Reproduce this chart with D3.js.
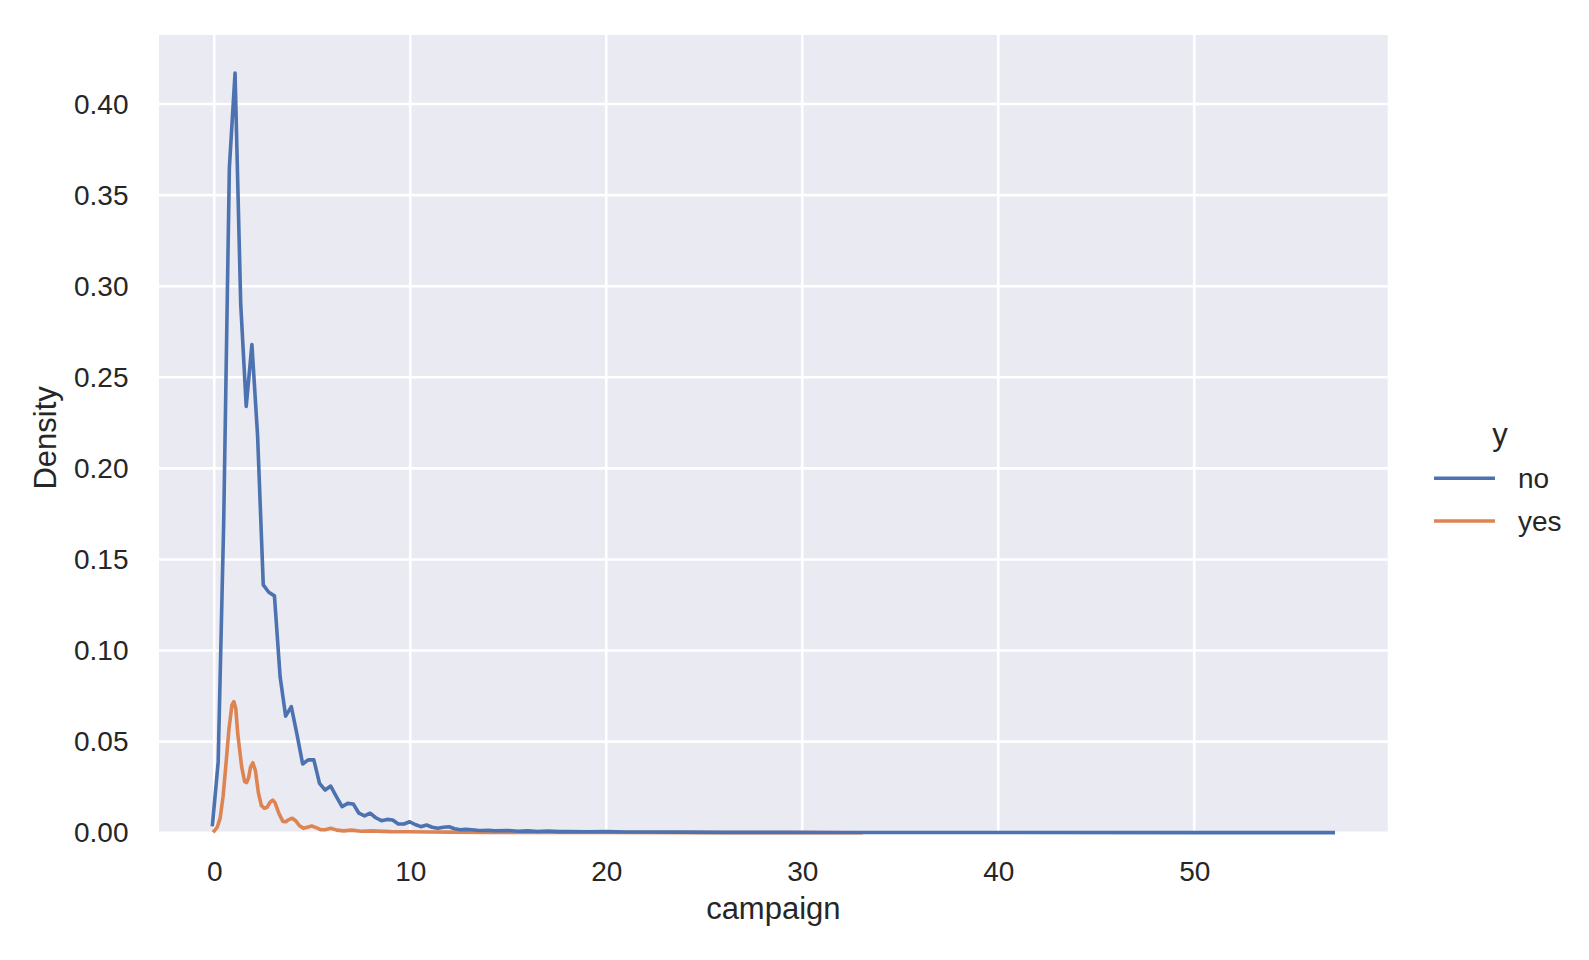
<!DOCTYPE html>
<html>
<head>
<meta charset="utf-8">
<script src="https://cdn.jsdelivr.net/npm/d3@7"></script>
<style>
  body { margin: 0; background: #ffffff; }
  text { font-family: "Liberation Sans", Arial, sans-serif; fill: #262626; }
</style>
</head>
<body>
<svg id="chart" width="1589" height="960"></svg>
<script>
// ---- data ----
const seriesNames = ["no", "yes"];
const seriesColors = ["#4c72b0", "#dd8452"];
const xTicks = [0, 10, 20, 30, 40, 50];
const yTicks = [0, 0.05, 0.10, 0.15, 0.20, 0.25, 0.30, 0.35, 0.40];

// density curve for y = "no"  [campaign, density]
const densityNo = [
  [-0.09,0.0045],[0.20,0.039],[0.48,0.170],[0.77,0.365],[1.06,0.417],[1.35,0.290],
  [1.63,0.234],[1.92,0.268],[2.21,0.218],[2.50,0.136],[2.78,0.132],[3.07,0.130],
  [3.36,0.0856],[3.64,0.064],[3.93,0.0692],[4.22,0.054],[4.51,0.0377],[4.79,0.040],
  [5.08,0.040],[5.37,0.0271],[5.66,0.0234],[5.94,0.0256],[6.23,0.0198],[6.52,0.0143],
  [6.81,0.0161],[7.09,0.0158],[7.38,0.0107],[7.67,0.0092],[7.95,0.0107],[8.24,0.0082],
  [8.53,0.0066],[8.82,0.0073],[9.10,0.0070],[9.39,0.0048],[9.68,0.0048],[9.97,0.0060],
  [10.25,0.0045],[10.54,0.0033],[10.83,0.0042],[11.12,0.0030],[11.40,0.0024],[11.69,0.0030],
  [11.98,0.0033],[12.26,0.0022],[12.55,0.0016],[12.84,0.0018],[13.13,0.0016],[13.41,0.0013],
  [13.70,0.0012],[13.99,0.0013],[14.28,0.0011],[15.0,0.0012],[15.5,0.0008],[16.0,0.0010],
  [16.5,0.0007],[17.0,0.0009],[17.6,0.0006],[18.0,0.0007],[19.0,0.0005],[20.0,0.0006],
  [21.0,0.0004],[22.0,0.0004],[24.0,0.0003],[26.0,0.0002],[29.0,0.0002],[32.0,0.0001],
  [40.0,0.0001],[50.0,0.00005],[57.09,0.00002]
];

// density curve for y = "yes"  [campaign, density]
const densityYes = [
  [0.00,0.0010],[0.15,0.0030],[0.30,0.0080],[0.45,0.0200],[0.60,0.0380],[0.75,0.0570],
  [0.90,0.0700],[1.00,0.0720],[1.10,0.0680],[1.20,0.0540],[1.40,0.0360],[1.55,0.0280],
  [1.65,0.0275],[1.75,0.0300],[1.85,0.0360],[1.97,0.0384],[2.10,0.0340],[2.25,0.0220],
  [2.40,0.0150],[2.55,0.0134],[2.70,0.0140],[2.85,0.0168],[2.98,0.0179],[3.10,0.0165],
  [3.30,0.0105],[3.50,0.0062],[3.65,0.0060],[3.80,0.0072],[3.98,0.0079],[4.15,0.0066],
  [4.35,0.0038],[4.55,0.0024],[4.75,0.0030],[4.97,0.0037],[5.20,0.0028],[5.45,0.0016],
  [5.65,0.0016],[5.95,0.0024],[6.25,0.0014],[6.60,0.0010],[7.00,0.0014],[7.50,0.0008],
  [8.00,0.0010],[9.00,0.0006],[10.0,0.0005],[11.0,0.0004],[12.0,0.0003],[14.0,0.0002],
  [17.0,0.0001],[20.0,0.00008],[25.0,0.00004],[30.0,0.00002],[33.0,0.00001]
];

// ---- layout ----
const svg = d3.select("#chart");
const plot = { left: 159, right: 1387.7, top: 35, bottom: 832.7 };
const x = d3.scaleLinear().domain([-2.82, 59.87]).range([plot.left, plot.right]);
const y = d3.scaleLinear().domain([0, 0.4379]).range([plot.bottom, plot.top]);
const tickFont = 28, labelFont = 31;
const fontFamily = '"Liberation Sans", Arial, sans-serif';

svg.append("rect")
  .attr("x", plot.left).attr("y", plot.top)
  .attr("width", plot.right - plot.left).attr("height", plot.bottom - plot.top)
  .attr("fill", "#eaeaf2");

// grid lines
const grid = svg.append("g");
grid.selectAll("line.vx").data(xTicks).join("line")
  .attr("x1", d => x(d)).attr("x2", d => x(d))
  .attr("y1", plot.top).attr("y2", plot.bottom)
  .attr("stroke", "#ffffff").attr("stroke-width", 2.6);
grid.selectAll("line.hy").data(yTicks).join("line")
  .attr("x1", plot.left).attr("x2", plot.right)
  .attr("y1", d => y(d)).attr("y2", d => y(d))
  .attr("stroke", "#ffffff").attr("stroke-width", 2.6);

// axes (labels only, no domain / tick marks)
const xAxis = d3.axisBottom(x).tickValues(xTicks).tickSize(0).tickPadding(28.3).tickFormat(d3.format("d"));
const gx = svg.append("g").attr("transform", `translate(0,${plot.bottom})`).call(xAxis);
gx.select(".domain").remove();
gx.selectAll("text").attr("font-size", tickFont).attr("fill", "#262626").style("font-family", fontFamily);

const yAxis = d3.axisLeft(y).tickValues(yTicks).tickSize(0).tickPadding(plot.left - 128.5).tickFormat(d3.format(".2f"));
const gy = svg.append("g").attr("transform", `translate(${plot.left},0)`).call(yAxis);
gy.select(".domain").remove();
gy.selectAll("text").attr("font-size", tickFont).attr("fill", "#262626").style("font-family", fontFamily);

// axis titles
svg.append("text").attr("x", (plot.left + plot.right) / 2)
  .attr("y", 919).attr("text-anchor", "middle").attr("font-size", labelFont).text("campaign");
svg.append("text")
  .attr("transform", `translate(56,${(plot.top + plot.bottom) / 2 + 4}) rotate(-90)`)
  .attr("text-anchor", "middle").attr("font-size", labelFont).text("Density");

// density lines ("yes" drawn first, "no" on top)
const line = d3.line().x(d => x(d[0])).y(d => y(d[1]));
const series = [
  { data: densityYes, color: seriesColors[1] },
  { data: densityNo, color: seriesColors[0] }
];
svg.append("g").selectAll("path").data(series).join("path")
  .attr("d", d => line(d.data))
  .attr("fill", "none")
  .attr("stroke", d => d.color)
  .attr("stroke-width", 3.6)
  .attr("stroke-linejoin", "round")
  .attr("stroke-linecap", "square");

// legend
const legend = svg.append("g");
legend.append("text").attr("x", 1500).attr("y", 445).attr("text-anchor", "middle")
  .attr("font-size", labelFont).text("y");
const items = legend.selectAll("g.item").data(seriesNames).join("g")
  .attr("transform", (d, i) => `translate(0,${478.3 + i * 42.7})`);
items.append("line").attr("x1", 1434).attr("x2", 1495).attr("y1", 0).attr("y2", 0)
  .attr("stroke", (d, i) => seriesColors[i]).attr("stroke-width", 3.6);
items.append("text").attr("x", 1518).attr("y", 10).attr("font-size", tickFont).text(d => d);
</script>
</body>
</html>
